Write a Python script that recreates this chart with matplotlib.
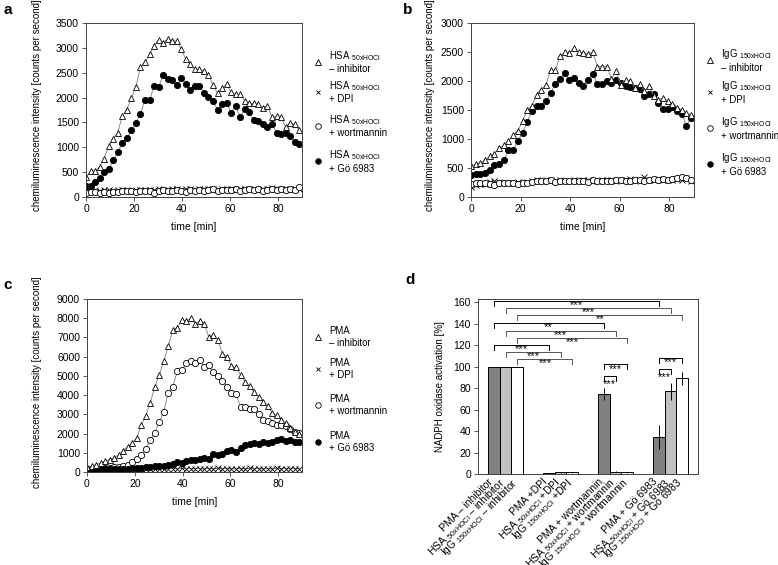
import numpy as np
import matplotlib
matplotlib.use('Agg')
import matplotlib.pyplot as plt
from matplotlib.lines import Line2D
from matplotlib.transforms import ScaledTranslation

plt.rcParams['font.family'] = ['Liberation Sans', 'DejaVu Sans']
plt.rcParams['mathtext.fontset'] = 'custom'
plt.rcParams['mathtext.rm'] = 'Liberation Sans'
plt.rcParams['font.size'] = 7

# sampling every ~1.9 min
time = np.arange(48) * 1.89

# panel a: HSA 50xHOCl
a_inh = [400, 518, 520, 605, 773, 1021, 1176, 1297, 1632, 1760, 1982, 2217,
         2620, 2707, 2869, 3043, 3158, 3104, 3178, 3144, 3138, 2976, 2769, 2674,
         2567, 2567, 2533, 2452, 2251, 2083, 2197, 2264, 2103, 2063, 2063, 1934,
         1882, 1882, 1862, 1781, 1840, 1610, 1620, 1600, 1400, 1490, 1460, 1340]
a_dpi = [130, 130, 140, 130, 150, 140, 130, 140, 150, 140, 130, 150,
         150, 140, 150, 150, 160, 150, 140, 160, 160, 150, 160, 170,
         150, 160, 170, 160, 160, 150, 170, 160, 160, 150, 160, 170,
         160, 170, 150, 160, 170, 180, 170, 160, 170, 170, 160, 170]
a_wort = [90, 100, 95, 80, 100, 90, 110, 110, 120, 115, 120, 110,
          130, 120, 125, 90, 130, 140, 120, 130, 140, 130, 110, 140,
          120, 150, 120, 140, 160, 130, 140, 150, 140, 160, 130, 140,
          170, 150, 160, 130, 150, 160, 150, 160, 150, 170, 150, 200]
a_go = [215, 228, 295, 375, 510, 556, 738, 905, 1086, 1187, 1341, 1488,
        1670, 1958, 1944, 2233, 2213, 2447, 2380, 2347, 2246, 2387, 2280, 2159,
        2240, 2240, 2092, 2018, 1931, 1757, 1864, 1891, 1696, 1824, 1609, 1763,
        1703, 1542, 1529, 1475, 1408, 1475, 1287, 1261, 1294, 1227, 1106, 1059]

# panel b: IgG 150xHOCl
b_inh = [530, 575, 585, 640, 700, 750, 840, 890, 960, 1075, 1145, 1305,
         1505, 1575, 1765, 1850, 1935, 2185, 2185, 2425, 2495, 2485, 2570, 2495,
         2485, 2470, 2495, 2250, 2250, 2250, 2040, 2165, 1935, 2020, 1995, 1880,
         1950, 1830, 1910, 1750, 1680, 1700, 1650, 1600, 1540, 1500, 1440, 1420]
b_dpi = [180, 210, 220, 230, 260, 270, 260, 250, 240, 250, 260, 240,
         260, 280, 290, 280, 290, 300, 280, 290, 280, 270, 290, 280,
         290, 300, 280, 270, 290, 300, 290, 280, 290, 300, 310, 280,
         300, 340, 300, 290, 310, 300, 290, 300, 310, 300, 330, 280]
b_wort = [230, 250, 240, 250, 230, 210, 250, 240, 250, 240, 220, 240,
          250, 260, 270, 270, 280, 290, 260, 270, 280, 270, 270, 280,
          270, 260, 290, 270, 280, 270, 280, 290, 300, 280, 270, 290,
          300, 280, 300, 310, 290, 310, 300, 310, 330, 340, 320, 300]
b_go = [380, 395, 405, 420, 460, 550, 570, 630, 810, 810, 960, 1110,
        1290, 1490, 1570, 1570, 1660, 1790, 1950, 2030, 2140, 2020, 2050, 1960,
        1920, 2020, 2120, 1950, 1950, 2000, 1960, 2010, 1960, 1910, 1900, 1880,
        1860, 1750, 1780, 1770, 1620, 1510, 1510, 1560, 1480, 1430, 1230, 1360]

# panel c: PMA
c_inh = [250, 300, 380, 480, 560, 650, 750, 900, 1100, 1300, 1500, 1750,
         2450, 2900, 3600, 4400, 5050, 5750, 6550, 7400, 7500, 7900, 7850, 8000,
         7700, 7850, 7700, 7000, 7150, 6850, 6150, 6000, 5500, 5450, 5050, 4700,
         4450, 4150, 3900, 3650, 3450, 3050, 2950, 2700, 2550, 2300, 2100, 2000]
c_dpi = [120, 130, 140, 150, 150, 160, 150, 160, 170, 160, 170, 160,
         170, 180, 170, 160, 170, 180, 175, 180, 170, 185, 170, 180,
         175, 180, 165, 180, 170, 185, 175, 180, 170, 175, 180, 170,
         185, 175, 180, 170, 180, 175, 185, 170, 180, 175, 180, 170]
c_wort = [150, 160, 170, 180, 200, 220, 240, 270, 310, 380, 520, 700,
          900, 1220, 1650, 2050, 2600, 3130, 4130, 4400, 5250, 5330, 5650, 5780,
          5680, 5820, 5450, 5560, 5180, 5000, 4740, 4430, 4130, 4050, 3390, 3390,
          3300, 3280, 3000, 2730, 2660, 2570, 2470, 2430, 2380, 2220, 2100, 2050]
c_go = [150, 150, 140, 150, 160, 150, 160, 170, 170, 180, 190, 200,
        220, 240, 260, 290, 300, 330, 380, 420, 520, 460, 550, 600,
        640, 700, 720, 680, 950, 900, 920, 1100, 1120, 1050, 1250, 1400,
        1480, 1500, 1480, 1550, 1500, 1550, 1650, 1700, 1600, 1650, 1580, 1550]

# panel d: NADPH oxidase activation [%]
d_groups = ['inhibitor', 'DPI', 'wortmannin', 'Gö 6983']
pma_vals = [100, 1.0, 74.5, 34.5]
pma_err = [0, 0.3, 5.5, 11.5]
hsa_vals = [100, 1.5, 2.0, 77]
hsa_err = [0, 0.3, 0.6, 8]
igg_vals = [100, 1.5, 1.5, 89]
igg_err = [0, 0.3, 0.4, 6]

HSA = 'HSA $_{\\mathrm{50xHOCl}}$'
IGG = 'IgG $_{\\mathrm{150xHOCl}}$'
d_labels = ['PMA \u2013 inhibitor', HSA + ' \u2013 inhibitor', IGG + ' \u2013 inhibitor',
            'PMA +DPI', HSA + ' +DPI', IGG + ' +DPI',
            'PMA + wortmannin', HSA + ' + wortmannin', IGG + ' + wortmannin',
            'PMA + Gö 6983', HSA + ' + Gö 6983', IGG + ' + Gö 6983']

# significance brackets: (bar i, bar j, height, label)
brackets = [(0, 9, 161, '***'), (1, 10, 154.5, '***'), (2, 11, 148, '**'),
            (0, 6, 140.5, '**'), (1, 7, 133, '***'), (2, 8, 126.5, '***'),
            (0, 3, 120, '***'), (1, 4, 113.5, '***'), (2, 5, 107, '***'),
            (6, 8, 102, '***'), (6, 7, 91, '***'),
            (9, 11, 108, '***'), (9, 10, 97.5, '***')]

W, H = 778, 565
fig = plt.figure(figsize=(W / 100, H / 100), dpi=100)


def box(l, t, r, b):
    return [l / W, 1 - b / H, (r - l) / W, (b - t) / H]


def fx(x):
    return x / W


def fy(y):
    return 1 - y / H


styles = [('^', 'white', 5), ('x', 'black', 4), ('o', 'white', 4.5), ('o', 'black', 4.5)]


def style_axes(ax):
    for s in ax.spines.values():
        s.set_linewidth(0.7)
        s.set_color('#404040')
    ax.tick_params(direction='out', length=3, width=0.6, labelsize=7.5, pad=2,
                   color='#404040')


def line_panel(ax, series, ymax, ystep):
    for idx in [1, 2, 3, 0]:
        m, fc, ms = styles[idx]
        ax.plot(time, series[idx], color='#7f7f7f', lw=0.6, marker=m, mfc=fc,
                mec='black', ms=ms, mew=0.6)
    ax.set_xlim(0, 90)
    ax.set_ylim(0, ymax)
    ax.set_xticks(range(0, 81, 20))
    ax.set_yticks(np.arange(0, ymax + 1, ystep))
    style_axes(ax)
    ax.set_xlabel('time [min]', fontsize=7.5, labelpad=6)


def legend(x, ys, labels):
    for y, lab, (m, fc, ms) in zip(ys, labels, styles):
        fig.add_artist(Line2D([fx(x)], [fy(y)], marker=m, mfc=fc, mec='black',
                              ms=ms - 0.5, mew=0.6, ls='none',
                              transform=fig.transFigure))
        fig.text(fx(x + 11), fy(y), lab, va='center', ha='left', fontsize=6.9,
                 linespacing=1.15)


ylab = 'chemiluminescence intensity [counts per second]'

ax_a = fig.add_axes(box(86, 23, 302, 197))
line_panel(ax_a, [a_inh, a_dpi, a_wort, a_go], 3500, 500)
fig.text(fx(37), fy(105), ylab, rotation=90, ha='center', va='center', fontsize=7)
legend(318, [62, 92, 126, 161],
       [HSA + '\n\u2013 inhibitor', HSA + '\n+ DPI', HSA + '\n+ wortmannin',
        HSA + '\n+ Gö 6983'])

ax_b = fig.add_axes(box(471, 23, 694, 197))
line_panel(ax_b, [b_inh, b_dpi, b_wort, b_go], 3000, 500)
fig.text(fx(430), fy(105), ylab, rotation=90, ha='center', va='center', fontsize=7)
legend(710, [60, 92, 128, 164],
       [IGG + '\n\u2013 inhibitor', IGG + '\n+ DPI', IGG + '\n+ wortmannin',
        IGG + '\n+ Gö 6983'])

ax_c = fig.add_axes(box(87, 299, 302, 472))
line_panel(ax_c, [c_inh, c_dpi, c_wort, c_go], 9000, 1000)
fig.text(fx(37), fy(382), ylab, rotation=90, ha='center', va='center', fontsize=7)
legend(318, [337, 369, 405, 442],
       ['PMA\n\u2013 inhibitor', 'PMA\n+ DPI', 'PMA\n+ wortmannin', 'PMA\n+ Gö 6983'])

# panel d bars
ax_d = fig.add_axes(box(478, 299, 698, 474))
w = 0.218
g = np.arange(len(d_groups))
bar_x = []
for k, (vals, err, col) in enumerate([(pma_vals, pma_err, '#808080'),
                                      (hsa_vals, hsa_err, '#c0c0c0'),
                                      (igg_vals, igg_err, 'white')]):
    xs = g + (k - 1) * w
    ax_d.bar(xs, vals, w, color=col, edgecolor='black', lw=0.7, zorder=2)
    ax_d.errorbar(xs, vals, yerr=err, fmt='none', ecolor='black', elinewidth=0.7,
                  capsize=0, zorder=3)
    bar_x.append(xs)
pos = np.array(bar_x).T.ravel()
ax_d.set_xlim(-0.5, 3.5)
ax_d.set_ylim(0, 163)
ax_d.set_yticks(range(0, 161, 20))
ax_d.set_xticks(pos)
ax_d.set_xticklabels(d_labels, rotation=45, ha='right', va='center_baseline',
                     rotation_mode='anchor', fontsize=6.8)
style_axes(ax_d)
ax_d.tick_params(axis='x', length=0, pad=4)
shift = ScaledTranslation(-3 / 100, 0, fig.dpi_scale_trans)
for t in ax_d.get_xticklabels():
    t.set_transform(t.get_transform() + shift)
ax_d.set_ylabel('NADPH oxidase activation [%]', fontsize=7, labelpad=6)

for i, j, h, lab in brackets:
    col = 'black' if i % 3 == 0 else '#555555'
    x1, x2 = pos[i], pos[j]
    ax_d.plot([x1, x1, x2, x2], [h - 4.5, h, h, h - 4.5], color=col, lw=0.7,
              clip_on=False, zorder=4)
    off = 7.5 if j - i == 1 else 4.0
    ax_d.text((x1 + x2) / 2, h - off, lab, ha='center', va='center', fontsize=8,
              zorder=5)

for letter, x, y in [('a', 8, 10), ('b', 408, 10), ('c', 8, 285), ('d', 410, 280)]:
    fig.text(fx(x), fy(y), letter, fontsize=11, fontweight='bold',
             ha='center', va='center')

fig.savefig('out.png', dpi=100)
